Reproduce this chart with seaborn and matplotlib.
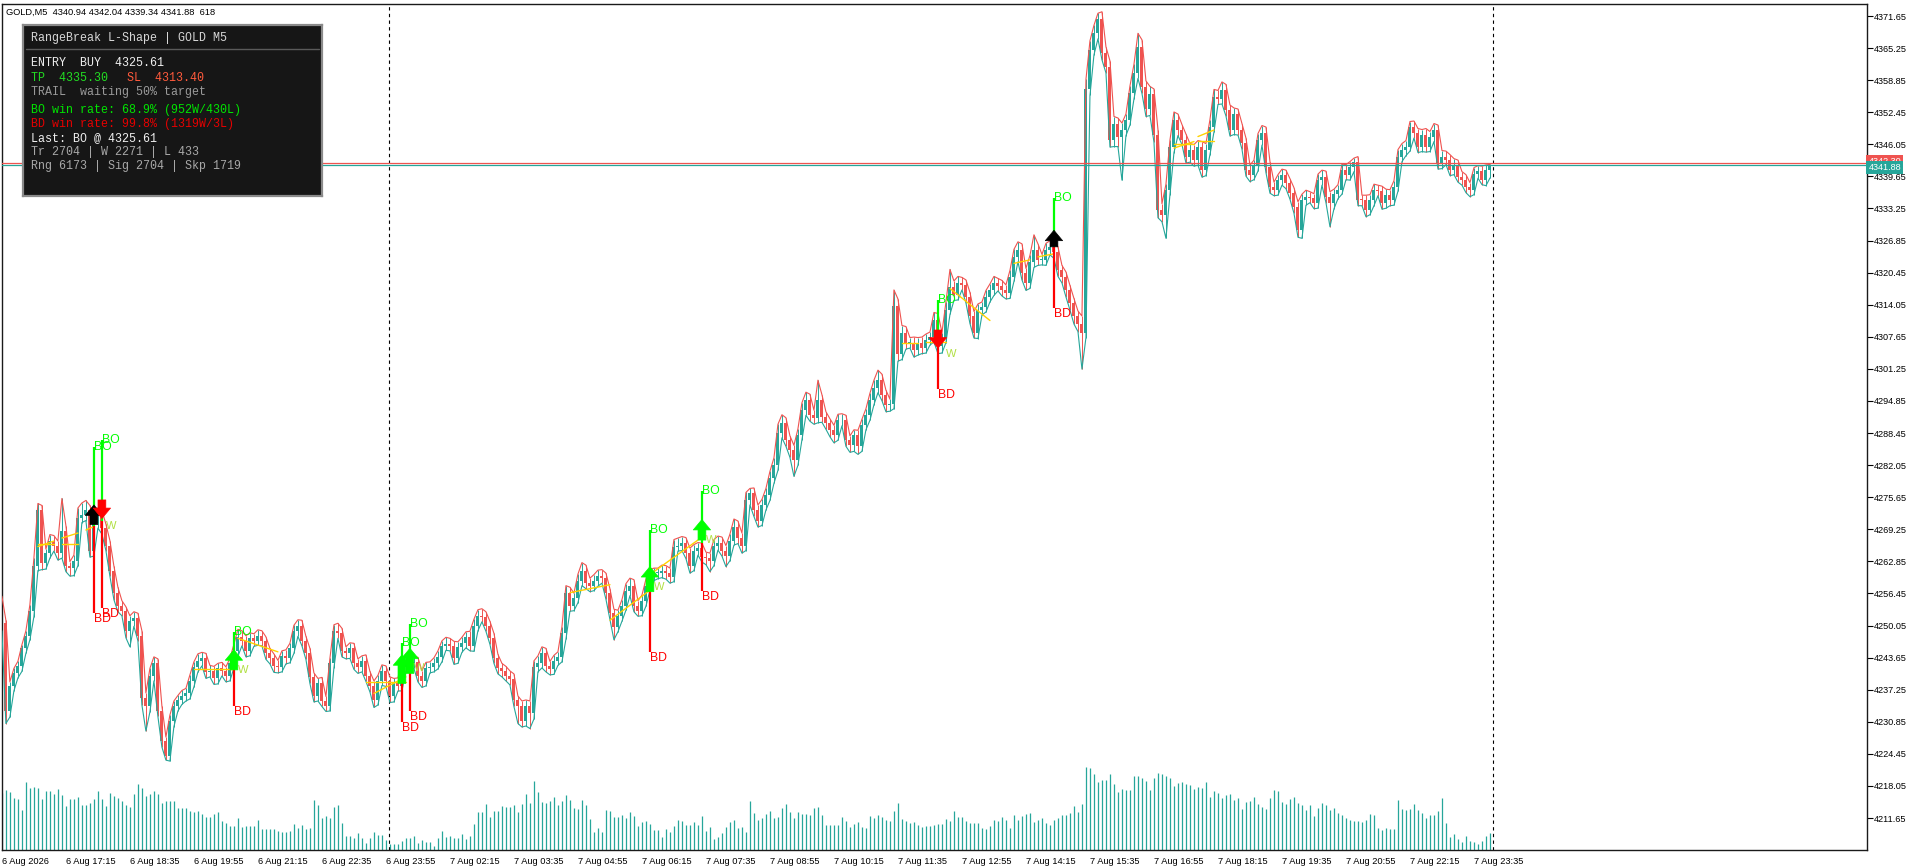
import numpy as np
import pandas as pd
import seaborn as sns
import matplotlib
matplotlib.use("Agg")
import matplotlib.pyplot as plt
import matplotlib.transforms as mtrans

# GOLD M5, 6 Aug 15:55 -> 7 Aug 23:55 (373 bars)
closes = [
    4250.5, 4233.0, 4238.0, 4240.5, 4242.0, 4245.5, 4248.0, 4253.0, 4262.0, 4273.0,
    4262.5, 4264.5, 4267.0, 4266.0, 4264.5, 4269.0, 4262.0, 4261.5, 4263.0, 4271.5,
    4272.0, 4273.0, 4265.0, 4270.5, 4272.0, 4269.5, 4266.0, 4261.0, 4256.5, 4254.0,
    4253.0, 4249.0, 4251.0, 4251.6, 4248.0, 4235.5, 4234.0, 4240.0, 4242.5, 4233.0,
    4227.0, 4224.0, 4231.0, 4234.0, 4235.2, 4236.0, 4236.5, 4239.0, 4241.8, 4243.0,
    4243.5, 4240.8, 4241.0, 4239.5, 4241.5, 4241.0, 4240.0, 4242.5, 4245.0, 4247.8,
    4247.0, 4245.0, 4247.5, 4247.0, 4248.0, 4247.0, 4244.5, 4243.5, 4242.0, 4241.8,
    4244.0, 4243.5, 4245.5, 4249.0, 4250.0, 4247.0, 4244.5, 4239.8, 4236.0, 4238.5,
    4235.0, 4234.0, 4242.5, 4249.0, 4248.5, 4245.0, 4244.5, 4245.5, 4242.5, 4241.8,
    4243.0, 4240.0, 4238.0, 4235.2, 4239.0, 4241.0, 4239.0, 4236.0, 4238.5, 4238.0,
    4241.8, 4243.0, 4242.5, 4242.8, 4240.0, 4239.0, 4241.5, 4241.8, 4242.5, 4243.8,
    4246.0, 4246.4, 4246.0, 4243.5, 4245.8, 4246.5, 4247.8, 4246.0, 4250.0, 4252.0,
    4251.8, 4250.0, 4247.5, 4243.5, 4241.5, 4241.0, 4240.0, 4239.3, 4235.2, 4234.0,
    4231.0, 4234.0, 4232.5, 4241.8, 4242.5, 4244.5, 4242.0, 4241.3, 4243.0, 4243.8,
    4248.5, 4256.5, 4254.0, 4255.5, 4259.0, 4261.0, 4258.5, 4258.0, 4259.0, 4260.0,
    4259.5, 4256.5, 4252.5, 4249.8, 4252.0, 4254.0, 4257.0, 4258.0, 4254.0, 4253.0,
    4255.0, 4258.0, 4260.0, 4260.5, 4260.6, 4261.0, 4260.5, 4259.8, 4265.8, 4266.0,
    4266.5, 4264.5, 4262.0, 4265.0, 4265.5, 4263.8, 4263.5, 4263.0, 4266.0, 4266.5,
    4265.0, 4264.0, 4267.0, 4269.8, 4267.5, 4266.0, 4275.0, 4276.5, 4273.0, 4271.0,
    4274.0, 4276.0, 4279.5, 4282.0, 4288.4, 4290.5, 4287.0, 4285.0, 4283.0, 4288.0,
    4293.0, 4295.0, 4292.0, 4291.5, 4295.0, 4291.7, 4290.4, 4289.0, 4288.0, 4291.0,
    4291.0, 4287.0, 4286.0, 4288.0, 4285.8, 4290.0, 4292.0, 4295.0, 4297.5, 4299.0,
    4296.0, 4294.0, 4294.3, 4313.7, 4304.3, 4308.5, 4306.5, 4306.5, 4305.0, 4306.5,
    4305.5, 4307.0, 4307.6, 4311.0, 4305.8, 4307.5, 4313.0, 4317.6, 4316.0, 4318.3,
    4318.0, 4315.6, 4311.7, 4308.4, 4313.0, 4313.5, 4315.6, 4317.0, 4318.3, 4317.8,
    4317.0, 4316.3, 4319.6, 4323.6, 4325.0, 4320.3, 4318.3, 4322.5, 4325.0, 4323.0,
    4323.0, 4325.0, 4325.6, 4324.5, 4321.0, 4319.6, 4317.0, 4314.3, 4311.7, 4310.3,
    4308.5, 4357.0, 4364.9, 4368.2, 4371.0, 4364.2, 4361.5, 4347.0, 4350.2, 4347.6,
    4349.0, 4350.9, 4356.2, 4360.2, 4365.5, 4357.5, 4353.0, 4356.0, 4348.0, 4333.0,
    4332.0, 4337.0, 4345.5, 4350.9, 4349.0, 4347.0, 4343.6, 4345.0, 4342.9, 4345.5,
    4341.0, 4345.0, 4349.6, 4355.5, 4355.0, 4356.8, 4352.9, 4349.0, 4352.0, 4349.0,
    4346.3, 4341.0, 4340.0, 4341.8, 4346.9, 4348.3, 4341.6, 4337.6, 4336.9, 4338.9,
    4339.9, 4338.3, 4336.3, 4333.6, 4329.0, 4334.9, 4335.6, 4335.3, 4334.3, 4338.9,
    4339.6, 4335.6, 4334.3, 4336.2, 4337.0, 4340.9, 4340.0, 4341.6, 4342.6, 4335.0,
    4334.9, 4333.0, 4334.9, 4336.9, 4336.8, 4334.3, 4336.0, 4334.9, 4337.6, 4343.6,
    4344.9, 4345.6, 4349.6, 4348.3, 4345.6, 4348.0, 4345.6, 4347.5, 4348.9, 4342.3,
    4343.6, 4343.0, 4341.0, 4342.0, 4339.6, 4338.9, 4337.6, 4337.0, 4340.2, 4340.8,
    4339.0, 4340.94, 4341.88,
]
first_open = 4255.5

upper_wick = [
    0.4, 0.6, 0.8, 1.0, 0.9, 0.7, 1.0, 1.2, 1.5, 1.4,
    1.0, 0.8, 1.2, 1.0, 0.9, 6.4, 1.0, 0.8, 1.1, 2.0,
    2.5, 2.0, 1.0, 1.2, 1.5, 1.0, 0.8, 1.0, 0.9, 1.2,
    1.0, 0.8, 1.0, 1.2, 0.9, 1.0, 1.1, 1.5, 1.3, 0.9,
    1.0, 0.8, 1.2, 1.0, 0.9, 1.1, 1.0, 1.2, 1.0, 1.4,
    1.2, 1.0, 1.1, 0.9, 1.0, 1.2, 0.8, 1.0, 1.3, 1.5,
    1.2, 1.0, 1.1, 0.9, 1.2, 1.0, 0.8, 1.0, 0.9, 1.1,
    1.0, 1.2, 1.0, 1.1, 1.2, 1.1, 0.9, 1.0, 0.8, 1.0,
    1.2, 0.9, 1.0, 1.2, 1.5, 1.0, 0.8, 1.1, 1.0, 0.9,
    1.0, 1.2, 0.9, 1.0, 1.1, 1.2, 1.0, 0.8, 1.0, 1.1,
    1.2, 1.3, 1.0, 1.1, 0.9, 1.0, 1.2, 1.0, 1.1, 1.2,
    1.0, 1.3, 1.1, 0.9, 1.0, 1.2, 1.0, 1.1, 1.3, 1.2,
    1.4, 1.0, 0.9, 1.0, 0.8, 1.0, 0.9, 1.0, 1.1, 0.8,
    1.0, 1.2, 1.0, 1.2, 1.5, 1.3, 1.0, 0.9, 1.1, 1.0,
    1.3, 1.5, 1.2, 1.0, 1.3, 1.6, 1.1, 1.0, 1.2, 1.1,
    1.2, 1.0, 0.9, 0.8, 1.1, 1.2, 1.4, 1.5, 1.2, 1.0,
    1.1, 1.3, 1.2, 1.0, 0.9, 1.1, 1.0, 1.0, 1.4, 1.5,
    1.3, 1.1, 1.0, 1.2, 1.1, 1.0, 0.9, 1.0, 1.2, 1.4,
    1.2, 1.0, 1.3, 1.5, 1.1, 1.0, 1.6, 0.9, 1.0, 1.1,
    1.2, 1.4, 1.3, 1.5, 1.8, 1.6, 1.0, 0.9, 1.0, 1.3,
    1.5, 1.6, 1.2, 1.0, 4.0, 1.1, 1.0, 0.9, 1.0, 1.2,
    1.3, 1.0, 0.9, 1.1, 1.0, 1.2, 1.3, 1.4, 1.5, 2.0,
    1.2, 1.0, 0.9, 3.3, 1.5, 1.4, 1.2, 1.0, 1.1, 1.0,
    1.1, 1.2, 1.0, 1.5, 1.3, 1.0, 1.6, 3.5, 1.2, 1.4,
    1.2, 1.0, 0.9, 1.0, 1.2, 1.1, 1.3, 1.2, 1.4, 1.0,
    1.1, 1.0, 1.3, 1.5, 1.6, 1.2, 1.0, 1.4, 3.0, 1.2,
    1.1, 1.3, 1.2, 1.0, 1.1, 0.9, 1.0, 0.9, 1.0, 1.1,
    1.5, 2.0, 1.8, 1.6, 1.2, 1.5, 1.3, 1.2, 1.4, 1.1,
    1.3, 1.2, 1.5, 1.8, 2.7, 1.4, 1.2, 1.6, 1.1, 1.0,
    1.2, 1.1, 1.4, 1.6, 1.2, 1.0, 1.1, 1.2, 1.0, 1.3,
    1.1, 1.2, 1.4, 1.5, 1.3, 1.7, 1.2, 1.0, 1.3, 1.1,
    1.2, 1.0, 0.9, 1.1, 1.3, 1.5, 1.2, 1.0, 0.9, 1.1,
    1.2, 1.0, 0.9, 1.1, 1.0, 1.2, 1.3, 1.0, 0.9, 1.2,
    1.3, 1.1, 1.0, 0.9, 1.0, 1.2, 1.1, 1.0, 0.7, 1.0,
    0.9, 1.0, 1.1, 1.2, 1.0, 0.9, 1.1, 1.0, 1.2, 1.4,
    1.3, 1.2, 1.0, 1.1, 0.9, 1.0, 1.2, 1.1, 1.3, 1.0,
    1.2, 1.1, 1.0, 1.2, 0.9, 1.0, 1.1, 0.8, 1.2, 1.0,
    0.9, 1.0, 0.16,
]
lower_wick = [
    1.5, 2.5, 1.2, 1.0, 0.9, 1.1, 1.0, 0.8, 1.2, 1.0,
    1.3, 1.2, 1.0, 1.1, 1.4, 1.0, 1.2, 1.6, 1.5, 1.0,
    0.9, 1.0, 1.3, 1.1, 1.0, 1.2, 1.0, 1.1, 1.3, 1.2,
    1.0, 1.4, 3.2, 1.1, 1.0, 1.3, 5.0, 1.2, 1.0, 1.1,
    1.2, 0.8, 1.0, 1.1, 1.0, 0.9, 1.0, 1.1, 1.2, 1.0,
    1.0, 1.3, 1.0, 1.2, 1.1, 1.0, 1.2, 1.0, 0.9, 1.1,
    1.0, 1.2, 1.0, 1.1, 0.9, 1.0, 1.2, 1.1, 1.3, 1.2,
    1.0, 1.1, 0.9, 1.0, 1.1, 1.0, 1.2, 1.3, 1.2, 1.0,
    1.1, 1.1, 1.0, 0.9, 1.0, 1.2, 1.1, 1.0, 1.2, 1.3,
    1.0, 1.1, 1.2, 1.5, 1.0, 0.9, 1.1, 1.3, 1.2, 1.0,
    1.0, 0.9, 1.1, 1.0, 1.2, 1.3, 1.0, 0.9, 1.0, 1.1,
    1.0, 0.9, 1.0, 1.2, 1.0, 1.1, 0.9, 1.0, 1.1, 1.0,
    1.0, 1.1, 1.2, 1.0, 1.1, 1.2, 1.0, 1.1, 1.3, 3.5,
    1.2, 1.0, 3.0, 1.1, 1.0, 0.9, 1.2, 1.1, 1.0, 0.9,
    1.0, 1.2, 1.1, 1.0, 0.9, 1.0, 1.1, 1.2, 1.0, 1.1,
    1.0, 1.2, 1.3, 2.6, 1.0, 1.1, 0.9, 1.0, 1.2, 1.1,
    1.0, 1.1, 0.9, 1.0, 1.1, 1.0, 1.2, 1.3, 1.0, 0.9,
    1.0, 1.1, 1.5, 1.0, 0.9, 1.1, 1.3, 2.2, 1.0, 0.9,
    1.1, 2.2, 1.0, 0.9, 1.1, 1.5, 1.0, 0.9, 1.2, 1.3,
    1.0, 0.9, 1.0, 1.1, 1.0, 0.9, 1.2, 1.4, 3.2, 1.0,
    0.9, 1.0, 1.2, 1.3, 1.0, 1.1, 1.2, 1.3, 1.5, 1.0,
    1.1, 1.2, 1.4, 1.2, 1.6, 1.0, 0.9, 1.0, 0.9, 1.0,
    1.1, 1.3, 1.2, 1.0, 1.5, 1.2, 1.3, 1.1, 1.4, 1.0,
    1.2, 1.1, 1.0, 1.0, 1.5, 1.4, 1.0, 0.9, 1.1, 1.0,
    1.0, 1.2, 1.4, 1.0, 1.1, 1.0, 0.9, 1.0, 1.1, 1.0,
    1.2, 1.1, 1.0, 0.9, 1.0, 1.3, 1.4, 1.0, 1.0, 1.1,
    1.0, 1.1, 1.0, 1.2, 1.3, 1.2, 1.4, 1.3, 1.5, 1.6,
    7.3, 1.0, 1.2, 1.0, 1.1, 1.3, 1.2, 1.5, 1.4, 2.0,
    8.7, 1.2, 1.0, 1.1, 1.0, 1.3, 1.4, 1.2, 1.5, 1.6,
    1.4, 4.7, 1.0, 1.1, 1.2, 1.0, 1.3, 1.1, 1.2, 1.0,
    1.5, 1.2, 1.0, 1.1, 1.0, 0.9, 1.2, 1.3, 1.0, 1.1,
    1.2, 1.3, 1.4, 1.0, 1.1, 1.0, 1.2, 1.3, 1.1, 1.0,
    1.0, 1.1, 1.2, 1.3, 1.5, 1.7, 1.0, 0.9, 1.1, 1.0,
    1.0, 1.2, 4.7, 1.1, 1.0, 0.9, 1.0, 1.1, 1.0, 1.2,
    1.1, 1.4, 1.0, 1.1, 1.0, 1.2, 1.0, 1.1, 1.0, 0.9,
    1.0, 1.1, 0.9, 1.0, 1.2, 1.0, 1.1, 1.0, 0.9, 1.2,
    1.1, 1.0, 1.2, 1.0, 1.1, 1.0, 1.2, 1.4, 1.0, 0.9,
    1.0, 1.2, 1.6,
]

volumes = [
    2040, 2160, 2076, 1872, 1824, 1440, 2436, 2232, 2268, 2232,
    1824, 2112, 2112, 2004, 2184, 1968, 1584, 1824, 1824, 1908,
    1620, 1620, 1680, 1824, 2112, 1824, 1584, 2040, 1944, 1872,
    1764, 1620, 1548, 2004, 2364, 2232, 1944, 2004, 2112, 2004,
    1680, 1764, 1764, 1764, 1524, 1524, 1524, 1392, 1356, 1392,
    1284, 1188, 1188, 1284, 1380, 1032, 972, 864, 864, 1152,
    828, 864, 864, 864, 1080, 744, 744, 744, 744, 672,
    648, 648, 672, 936, 792, 888, 768, 792, 1800, 1620,
    1152, 1224, 1152, 1548, 1620, 984, 504, 504, 420, 600,
    444, 264, 420, 648, 528, 528, 360,
    216, 216, 216,
    324, 420, 420, 504, 264, 360, 300, 300, 144, 420,
    672, 480, 504, 420, 444, 576, 396, 504, 936, 1356,
    1356, 1656, 1200, 1392, 1392, 1584, 1548, 1548, 1632, 1356,
    1644, 2016, 1680, 2472, 2088, 1716, 1680, 1764, 1920, 1632,
    1764, 1980, 1800, 1524, 1476, 1800, 1632, 1104, 648, 780,
    648, 1440, 1392, 1188, 1188, 1260, 1152, 1356, 1224, 864,
    1008, 1044, 936, 720, 720, 480, 744, 648, 864, 1080,
    1044, 900, 900, 1008, 888, 1224, 684, 828, 396, 480,
    612, 828, 1020, 1080, 792, 828, 648, 1764, 1332, 1080,
    1152, 1296, 1404, 1152, 1188, 1512, 1656, 1368, 1152, 1368,
    1296, 1296, 1260, 1512, 1548, 1260, 900, 900, 900, 900,
    1188, 1044, 828, 936, 1008, 828, 792, 1224, 1152, 1260,
    1188, 1080, 1044, 1404, 1692, 1116, 1044, 972, 1008, 900,
    828, 864, 864, 900, 936, 936, 1116, 1044, 1404, 1188,
    1188, 1044, 972, 972, 972, 792, 756, 864, 1080, 1044,
    1188, 1080, 792, 1260, 1080, 1224, 1296, 1332, 1008, 1080,
    1152, 972, 900, 1080, 1152, 1260, 1260, 1332, 1584, 1368,
    1656, 2976, 2940, 2736, 2448, 2520, 2520, 2736, 2376, 2088,
    2196, 2160, 2160, 2664, 2664, 2592, 2484, 2160, 2592, 2772,
    2736, 2664, 2592, 2304, 2412, 2448, 2376, 2340, 2196, 2268,
    2232, 2448, 1908, 2124, 2052, 1872, 1980, 2016, 1800, 1872,
    1476, 1728, 1764, 1908, 1656, 1548, 1476, 1872, 2160, 2124,
    1728, 1656, 1836, 1908, 1692, 1620, 1440, 1620, 1224, 1512,
    1692, 1620, 1440, 1512, 1332, 1260, 1152, 1080, 1044, 1044,
    1008, 1080, 1296, 1260, 792, 720, 792, 756, 756, 1800,
    1476, 1440, 1476, 1656, 1440, 1332, 1152, 1260, 1260, 1404,
    1872, 972, 468, 576, 396, 288, 504, 324, 288, 216,
    324, 504, 618,
]

tick_bars = list(range(0, 369, 16))
tick_labels = [
    "6 Aug 2026", "6 Aug 17:15", "6 Aug 18:35", "6 Aug 19:55", "6 Aug 21:15",
    "6 Aug 22:35", "6 Aug 23:55", "7 Aug 02:15", "7 Aug 03:35", "7 Aug 04:55",
    "7 Aug 06:15", "7 Aug 07:35", "7 Aug 08:55", "7 Aug 10:15", "7 Aug 11:35",
    "7 Aug 12:55", "7 Aug 14:15", "7 Aug 15:35", "7 Aug 16:55", "7 Aug 18:15",
    "7 Aug 19:35", "7 Aug 20:55", "7 Aug 22:15", "7 Aug 23:35",
]
price_ticks = [round(4211.65 + 6.4 * k, 2) for k in range(26)]
day_starts = [97, 373]
bid, ask = 4341.88, 4342.30

# breakout signals
sig_bar = [23, 25, 58, 100, 102, 162, 175, 234, 263]
sig_entry = [4270.0, 4271.0, 4243.0, 4241.0, 4242.5, 4258.5, 4266.5, 4306.5, 4325.61]
sig_tp = [4285.7, 4287.0, 4248.8, 4246.5, 4250.4, 4269.1, 4276.8, 4315.0, 4335.30]
sig_sl = [4252.5, 4253.5, 4233.9, 4230.9, 4232.9, 4244.7, 4257.0, 4297.2, 4313.40]
arrow_base = [4270.2, 4275.1, 4241.2, 4238.5, 4240.5, 4256.8, 4267.1, 4309.0, 4325.6]
arrow_tip = [4274.1, 4271.4, 4245.2, 4244.2, 4245.5, 4261.8, 4271.2, 4305.4, 4328.9]
arrow_color = ["black", "#ff0000", "#00ff00", "#00ff00", "#00ff00", "#00ff00", "#00ff00", "#ff0000", "black"]
w_bar = [26, 59, 103, 163, 176, 236]
w_price = [4270.0, 4241.2, 4241.5, 4257.8, 4267.1, 4304.2]

# range lines (gold)
rng_start = [9, 9, 15, 15, 21, 48, 59, 91, 93, 142, 152, 163, 225, 231, 237, 253, 259, 293, 293, 299, 299]
rng_end = [13, 13, 19, 19, 23, 58, 69, 101, 101, 152, 162, 174, 229, 236, 247, 257, 263, 298, 298, 303, 303]
rng_from = [4265.8, 4266.4, 4267.5, 4266.4, 4269.1, 4241.3, 4247.5, 4238.7, 4236.5, 4256.6, 4251.1, 4260.8,
            4306.5, 4306.7, 4317.3, 4322.3, 4323.6, 4345.3, 4346.2, 4347.6, 4346.7]
rng_to = [4266.9, 4266.4, 4268.5, 4266.4, 4269.8, 4241.3, 4244.8, 4238.7, 4239.8, 4258.2, 4257.1, 4267.1,
          4306.5, 4306.7, 4310.9, 4323.0, 4324.2, 4346.6, 4346.2, 4348.9, 4346.7]

header = "GOLD,M5  4340.94 4342.04 4339.34 4341.88  618"
panel_title = "RangeBreak L-Shape | GOLD M5"
panel_rows = [
    ("ENTRY  BUY  4325.61", "#f0f0f0"),
    ("TP  4335.30", "#22dd22"),
    ("TRAIL  waiting 50% target", "#9a9a9a"),
    ("BO win rate: 68.9% (952W/430L)", "#00e600"),
    ("BD win rate: 99.8% (1319W/3L)", "#e60000"),
    ("Last: BO @ 4325.61", "#f0f0f0"),
    ("Tr 2704 | W 2271 | L 433", "#a8a8a8"),
    ("Rng 6173 | Sig 2704 | Skp 1719", "#a8a8a8"),
]
panel_sl = "SL  4313.40"

assert len(closes) == len(upper_wick) == len(lower_wick) == len(volumes) == 373

UP, DN = "#26a69a", "#ef5350"

sns.set_style("white")
plt.rcParams["font.family"] = ["Liberation Sans", "DejaVu Sans"]

close = np.array(closes)
opn = np.concatenate([[first_open], close[:-1]])
df = pd.DataFrame({
    "bar": np.arange(len(close)),
    "open": opn,
    "close": close,
    "high": np.maximum(opn, close) + np.array(upper_wick),
    "low": np.minimum(opn, close) - np.array(lower_wick),
    "volume": volumes,
})
df["up"] = df["close"] >= df["open"]
colors = np.where(df["up"], UP, DN)

W, H = 1918, 868
L, R, T, B = 1.5, 1867, 4, 850
fig = plt.figure(figsize=(W / 100, H / 100), dpi=100)
fig.patch.set_facecolor("white")
ax = fig.add_axes([L / W, 1 - B / H, (R - L) / W, (B - T) / H])
vax = ax.twinx()
ax.set_zorder(vax.get_zorder() + 1)
ax.patch.set_visible(False)

# volume histogram at bottom
vax.vlines(df["bar"], 0, df["volume"], color=UP, lw=0.9)
vax.set_ylim(0, (B - T) * 36)
vax.set_yticks([])
for s in vax.spines.values():
    s.set_visible(False)

# candles
body_lo = np.minimum(df["open"], df["close"])
body_h = np.maximum(np.abs(df["close"] - df["open"]), 0.15)
ax.vlines(df["bar"], df["low"], df["high"], colors=colors, lw=0.7, zorder=2)
ax.bar(df["bar"], body_h, bottom=body_lo, width=0.75, color=colors, lw=0, zorder=2)

# high / low envelope
sns.lineplot(data=df, x="bar", y="high", ax=ax, color=DN, lw=0.8, zorder=3)
sns.lineplot(data=df, x="bar", y="low", ax=ax, color=UP, lw=0.8, zorder=3)

# range lines
for b0, b1, p0, p1 in zip(rng_start, rng_end, rng_from, rng_to):
    ax.plot([b0, b1], [p0, p1], color="#ffd200", lw=1.0, zorder=4)

# day separators, bid / ask
for d in day_starts:
    ax.axvline(d - 0.25, color="black", lw=0.8, ls=(0, (3, 3)), zorder=1)
ax.axhline(ask, color=DN, lw=0.9, zorder=4)
ax.axhline(bid, color=UP, lw=0.9, zorder=4)

# signals
for b, e, tp, sl, ab, at, c in zip(sig_bar, sig_entry, sig_tp, sig_sl, arrow_base, arrow_tip, arrow_color):
    ax.plot([b, b], [e, tp], color="#00ff00", lw=1.6, zorder=5, solid_capstyle="butt")
    ax.plot([b, b], [e, sl], color="#ff0000", lw=1.6, zorder=5, solid_capstyle="butt")
    ax.text(b, tp, "BO", color="#00ff00", fontsize=8.8, ha="left", va="center", zorder=7)
    ax.text(b, sl, "BD", color="#ff0000", fontsize=8.8, ha="left", va="top", zorder=7)
    ax.annotate("", xy=(b, at), xytext=(b, ab), zorder=6,
                arrowprops=dict(arrowstyle="simple,head_length=0.6,head_width=1.0,tail_width=0.45",
                                fc=c, ec=c, lw=0.5, shrinkA=0, shrinkB=0, mutation_scale=12.5))
for b, p in zip(w_bar, w_price):
    ax.text(b, p, "W", color="#b0e040", fontsize=8, ha="left", va="center", zorder=7)

# axes look
ax.set_xlim(-0.1, (R - 2) / 4)
ax.set_ylim(4371.65 - (B - 16) / 5.0125, 4371.65 + (16 - T) / 5.0125)
ax.yaxis.tick_right()
ax.set_yticks(price_ticks)
ax.set_yticklabels([f"{p:.2f}" for p in price_ticks])
ax.set_xticks(tick_bars)
ax.set_xticklabels(tick_labels, ha="left")
ax.tick_params(axis="y", direction="out", length=4, width=0.8, labelsize=6.6, pad=1, colors="black")
ax.tick_params(axis="x", direction="out", length=4, width=0.8, labelsize=6.7, pad=1, colors="black")
ax.set_xlabel("")
ax.set_ylabel("")
ax.grid(False)
for s in ax.spines.values():
    s.set_visible(True)
    s.set_color("#1a1a1a")
    s.set_linewidth(1.0)

# price labels on the scale
tr = mtrans.blended_transform_factory(ax.transAxes, ax.transData)
ax.text(1.0008, ask + 0.35, f"{ask:.2f}", transform=tr, color="white", fontsize=6.6, ha="left", va="center",
        bbox=dict(boxstyle="square,pad=0.22", fc=DN, ec="none"), zorder=8)
ax.text(1.0008, bid - 0.45, f"{bid:.2f}", transform=tr, color="white", fontsize=6.6, ha="left", va="center",
        bbox=dict(boxstyle="square,pad=0.22", fc=UP, ec="none"), zorder=9)

fig.text(6 / W, 1 - 12 / H, header, fontsize=6.7, ha="left", va="center", color="black")

# info panel, drawn above the chart
px0, py0, pw, ph = 22.7, 25, 299, 171
pax = fig.add_axes([px0 / W, 1 - (py0 + ph) / H, pw / W, ph / H])
pax.set_zorder(ax.get_zorder() + 5)
pax.set_xlim(0, pw)
pax.set_ylim(ph, 0)
pax.set_facecolor("#161616")
pax.set_xticks([])
pax.set_yticks([])
for s in pax.spines.values():
    s.set_color("#8a8a8a")
    s.set_linewidth(1.6)
mono = dict(family=["Liberation Mono", "DejaVu Sans Mono"], fontsize=8.4, ha="left", va="center")
pax.text(30.7 - px0, 38 - py0, panel_title, color="#d8d8d8", **mono)
pax.plot([3, pw - 3], [49 - py0, 49 - py0], color="#5a5a5a", lw=1)
row_y = [63, 78, 92, 110, 124, 138, 152, 166]
for (txt, col), y in zip(panel_rows, row_y):
    pax.text(30.7 - px0, y - py0, txt, color=col, **mono)
pax.text(127 - px0, 78 - py0, panel_sl, color="#ff5a3c", **mono)

fig.savefig("out.png", dpi=100, facecolor="white")
